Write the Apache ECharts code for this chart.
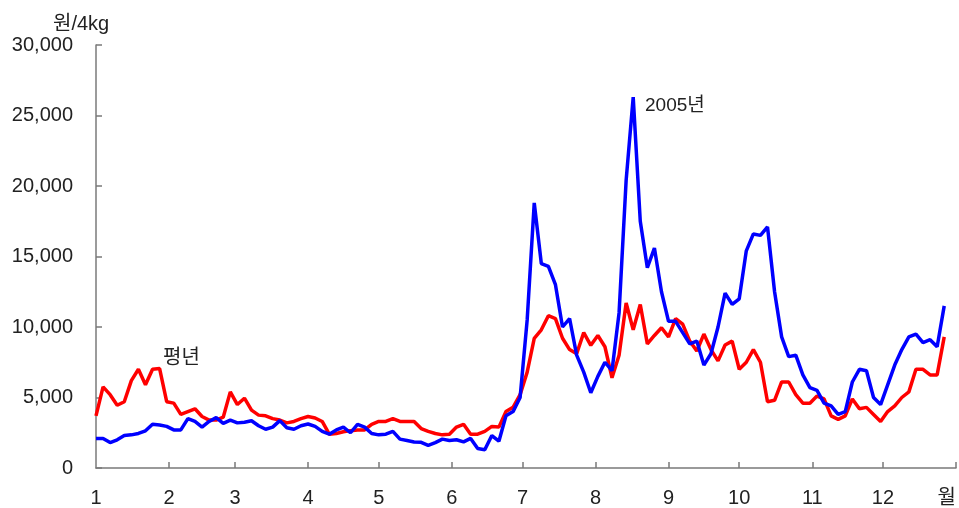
<!DOCTYPE html>
<html>
<head>
<meta charset="utf-8">
<script src="https://cdn.jsdelivr.net/npm/echarts@6/dist/echarts.min.js"></script>
<style>
html,body{margin:0;padding:0;background:#fff;}
#chart{width:959px;height:508px;}
</style>
</head>
<body>
<div id="chart"></div>
<script>
// Sampling: one reading every 3 days starting 1 Jan (day 0)
const dayStep = 3;
// Month start day-of-year positions and tick labels
const monthStarts = [0, 31, 59, 90, 120, 151, 181, 212, 243, 273, 304, 334];
const monthLabels = ['1','2','3','4','5','6','7','8','9','10','11','12'];
const yearEnd = 365;
const unitLabel = '월';

// 평년 (normal year), thousand 원/4kg
const normalYear = [
  3.7, 5.75, 5.2, 4.45, 4.7, 6.2, 7.0, 5.9, 7.0, 7.05,
  4.7, 4.6, 3.8, 4.0, 4.2, 3.65, 3.4, 3.4, 3.6, 5.4,
  4.5, 4.95, 4.1, 3.75, 3.7, 3.5, 3.4, 3.2, 3.3, 3.5,
  3.65, 3.55, 3.3, 2.4, 2.45, 2.57, 2.65, 2.7, 2.7, 3.1,
  3.3, 3.3, 3.5, 3.3, 3.3, 3.3, 2.8, 2.6, 2.45, 2.35,
  2.4, 2.9, 3.1, 2.4, 2.4, 2.6, 2.95, 2.9, 4.0, 4.3,
  5.2, 6.8, 9.2, 9.8, 10.8, 10.6, 9.2, 8.4, 8.1, 9.6,
  8.7, 9.4, 8.6, 6.4, 8.0, 11.7, 9.8, 11.6, 8.8, 9.4,
  9.95, 9.3, 10.6, 10.2, 9.0, 8.3, 9.5, 8.4, 7.6, 8.72,
  9.0, 7.0, 7.5, 8.4, 7.5, 4.7, 4.8, 6.1, 6.1, 5.2,
  4.6, 4.6, 5.1, 4.9, 3.7, 3.45, 3.7, 4.9, 4.2, 4.3,
  3.8, 3.3, 4.0, 4.4, 5.0, 5.4, 7.0, 7.0, 6.6, 6.6,
  9.3
];
// 2005년, thousand 원/4kg
const year2005 = [
  2.1, 2.1, 1.8, 2.0, 2.3, 2.35, 2.45, 2.64, 3.1, 3.05,
  2.95, 2.7, 2.7, 3.5, 3.3, 2.9, 3.3, 3.57, 3.17, 3.4,
  3.2, 3.25, 3.35, 3.0, 2.75, 2.9, 3.36, 2.85, 2.75, 3.0,
  3.12, 2.95, 2.6, 2.4, 2.7, 2.9, 2.5, 3.1, 2.9, 2.45,
  2.35, 2.4, 2.6, 2.05, 1.95, 1.85, 1.82, 1.6, 1.8, 2.05,
  1.95, 2.0, 1.85, 2.1, 1.38, 1.3, 2.3, 1.9, 3.7, 4.0,
  5.0, 10.5, 18.8, 14.5, 14.3, 13.0, 10.0, 10.6, 8.0, 6.8,
  5.34, 6.5, 7.5, 6.9, 11.0, 20.4, 26.3, 17.5, 14.2, 15.6,
  12.5, 10.4, 10.4, 9.6, 8.8, 9.0, 7.3, 8.1, 10.0, 12.4,
  11.6, 12.0, 15.4, 16.6, 16.5, 17.1, 12.5, 9.3, 7.9, 8.0,
  6.6, 5.7, 5.5, 4.6, 4.4, 3.8, 4.0, 6.1, 7.0, 6.9,
  5.0, 4.5, 5.9, 7.3, 8.4, 9.3, 9.5, 8.9, 9.1, 8.6,
  11.5
];
const seriesNames = ['평년', '2005년'];

function toPairs(vals) {
  return vals.map((v, i) => [i * dayStep, v * 1000]);
}

const FONT = '"Liberation Sans", "Noto Sans CJK KR", sans-serif';
const axisColor = '#7a7a7a';
const labelColumn = monthStarts.concat([361]);

const chart = echarts.init(document.getElementById('chart'), null, {renderer: 'canvas'});
chart.setOption({
  animation: false,
  backgroundColor: '#ffffff',
  grid: {left: 96, right: 3, top: 45, bottom: 40, containLabel: false},
  xAxis: {
    type: 'value',
    min: 0,
    max: yearEnd,
    axisLine: {show: true, lineStyle: {color: axisColor, width: 1.5}},
    axisTick: {show: true, inside: true, length: 6, lineStyle: {color: axisColor, width: 1.5},
      customValues: monthStarts.slice(1).concat([yearEnd])},
    axisLabel: {
      customValues: labelColumn,
      margin: 20,
      color: '#222',
      fontSize: 20,
      fontFamily: FONT,
      formatter: function (v) {
        const idx = monthStarts.indexOf(v);
        if (idx >= 0) return monthLabels[idx];
        return unitLabel;
      }
    },
    splitLine: {show: false}
  },
  yAxis: {
    type: 'value',
    min: 0,
    max: 30000,
    interval: 5000,
    axisLine: {show: true, lineStyle: {color: axisColor, width: 1.5}},
    axisTick: {show: true, inside: true, length: 6, lineStyle: {color: axisColor, width: 1.5}},
    axisLabel: {
      margin: 23,
      color: '#222',
      fontSize: 20,
      fontFamily: FONT,
      formatter: function (v) { return v.toLocaleString('en-US'); }
    },
    splitLine: {show: false}
  },
  graphic: [
    {type: 'text', left: 53, top: 14, style: {text: '원/4kg', font: '20px ' + FONT, fill: '#222'}},
    {type: 'text', left: 163, top: 348, style: {text: seriesNames[0], font: '20px ' + FONT, fill: '#222'}},
    {type: 'text', left: 645, top: 96, style: {text: seriesNames[1], font: '19px ' + FONT, fill: '#222'}}
  ],
  series: [
    {
      name: seriesNames[0], type: 'line', data: toPairs(normalYear),
      showSymbol: false, symbol: 'none',
      lineStyle: {color: '#ff0000', width: 3.5}, itemStyle: {color: '#ff0000'}, z: 2
    },
    {
      name: seriesNames[1], type: 'line', data: toPairs(year2005),
      showSymbol: false, symbol: 'none',
      lineStyle: {color: '#0000ff', width: 3.5}, itemStyle: {color: '#0000ff'}, z: 3
    }
  ]
});
</script>
</body>
</html>
